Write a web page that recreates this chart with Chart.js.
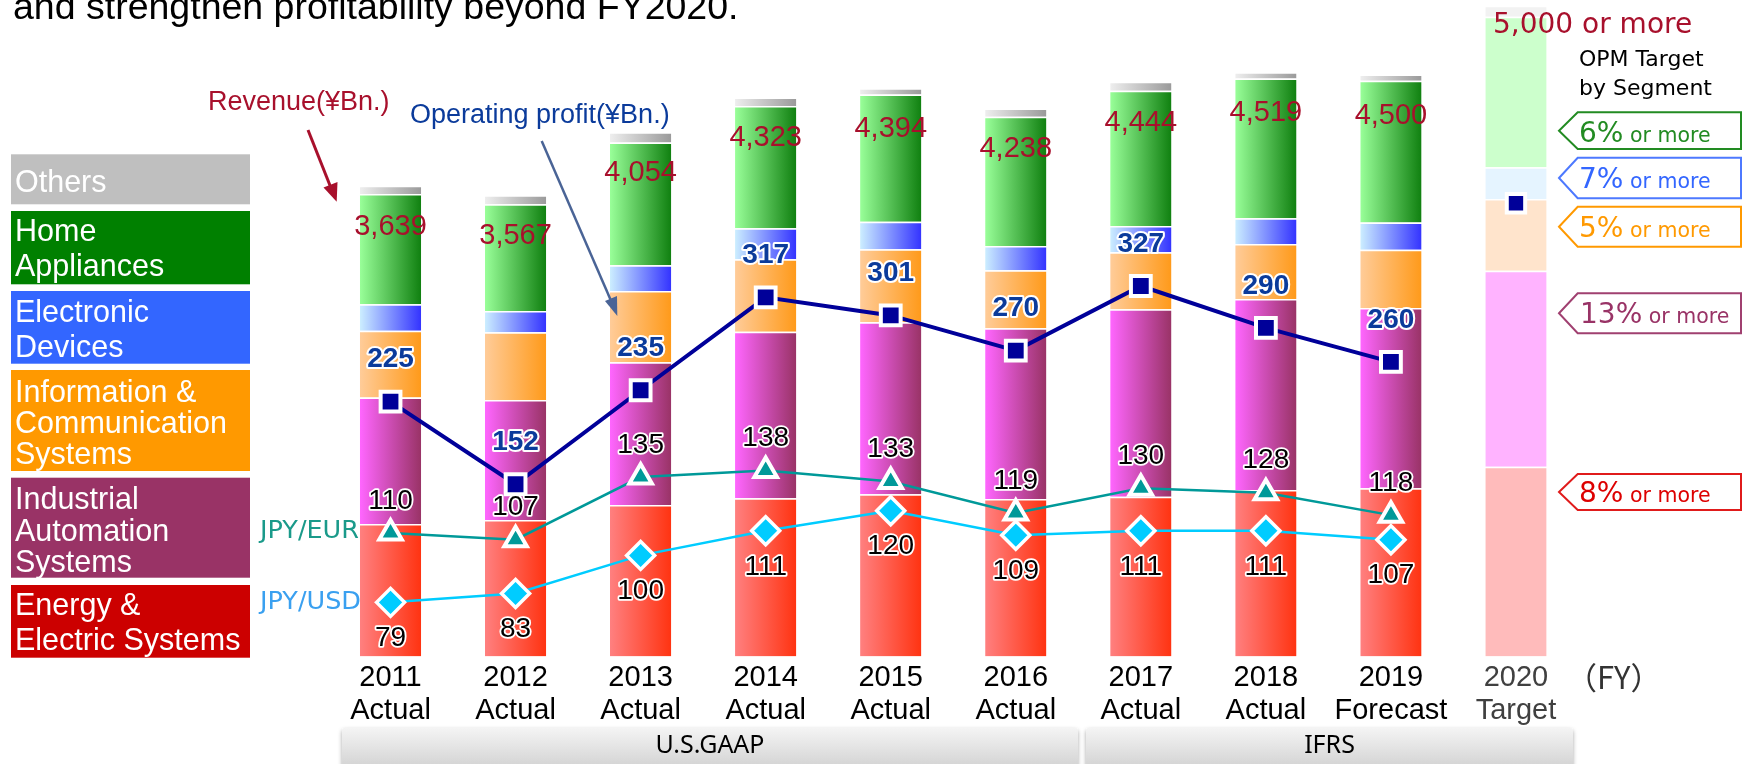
<!DOCTYPE html>
<html>
<head>
<meta charset="utf-8">
<script src="https://cdn.jsdelivr.net/npm/chart.js@4/dist/chart.umd.min.js"></script>
<style>
  html, body { margin: 0; padding: 0; background: #fff; overflow: hidden; }
  #wrap { position: relative; width: 1747px; height: 764px; }
  #chart { position: absolute; left: 0; top: 0; }
  #ov { position: absolute; left: 0; top: 0; pointer-events: none; }
  .arial { font-family: "Liberation Sans", Arial, sans-serif; }
  .dv { font-family: "DejaVu Sans", Verdana, sans-serif; }
</style>
</head>
<body>
<div id="wrap">
  <canvas id="chart" width="1747" height="764"></canvas>
  <svg id="ov" width="1747" height="764" xmlns="http://www.w3.org/2000/svg">
    <defs>
      <linearGradient id="gbar" x1="0" y1="0" x2="0" y2="1">
        <stop offset="0" stop-color="#f4f4f4"/>
        <stop offset="1" stop-color="#cfcfcf"/>
      </linearGradient>
      <filter id="sh" x="-5%" y="-20%" width="110%" height="160%">
        <feDropShadow dx="0" dy="2" stdDeviation="2" flood-color="#000" flood-opacity="0.35"/>
      </filter>
    </defs>
    <!-- header -->
    <text x="13" y="19" class="arial" font-size="37.5" fill="#000">and strengthen profitability beyond FY2020.</text>

    <!-- legend boxes -->
    <g class="arial" font-size="30.5" fill="#fff">
      <rect x="11" y="154.3" width="239" height="50" fill="#bfbfbf"/>
      <text x="15" y="191.7">Others</text>
      <rect x="11" y="211" width="239" height="73.3" fill="#008000"/>
      <text x="15" y="240.7">Home</text><text x="15" y="276">Appliances</text>
      <rect x="11" y="291" width="239" height="72.7" fill="#3366ff"/>
      <text x="15" y="321.7">Electronic</text><text x="15" y="356.7">Devices</text>
      <rect x="11" y="370" width="239" height="101" fill="#ff9900"/>
      <text x="15" y="401.7">Information &amp;</text><text x="15" y="433.3">Communication</text><text x="15" y="464">Systems</text>
      <rect x="11" y="477.7" width="239" height="100" fill="#993366"/>
      <text x="15" y="509.3">Industrial</text><text x="15" y="540.7">Automation</text><text x="15" y="571.7">Systems</text>
      <rect x="11" y="585" width="239" height="72.7" fill="#cc0000"/>
      <text x="15" y="615">Energy &amp;</text><text x="15" y="650">Electric Systems</text>
    </g>

    <!-- FX labels -->
    <text x="260" y="537.5" class="dv" font-size="25.5" fill="#1a9a8a">JPY/EUR</text>
    <text x="260" y="608.5" class="dv" font-size="25.5" fill="#3aa0f0">JPY/USD</text>

    <!-- series titles and arrows -->
    <text x="208" y="110" class="arial" font-size="27" fill="#a8102c">Revenue(¥Bn.)</text>
    <line x1="308" y1="130" x2="331" y2="188" stroke="#a8102c" stroke-width="3"/>
    <polygon points="336.7,201.7 323.5,187.5 337.5,182" fill="#a8102c"/>
    <text x="410" y="123" class="arial" font-size="27" fill="#0b3b9b">Operating profit(¥Bn.)</text>
    <line x1="541.7" y1="141" x2="612" y2="303" stroke="#4a6496" stroke-width="2.5"/>
    <polygon points="617.3,316 605,301 617,296" fill="#4a6496"/>

    <!-- 2020 target annotations -->
    <text x="1493" y="33.3" class="dv" font-size="28" fill="#a8102c">5,000 or more</text>
    <text x="1579" y="65.7" class="dv" font-size="22" fill="#000">OPM Target</text>
    <text x="1579" y="95" class="dv" font-size="22" fill="#000">by Segment</text>

    <g class="dv" stroke-width="2" fill="#fff">
      <polygon points="1559,130.7 1577.7,112.3 1741,112.3 1741,149 1577.7,149" stroke="#228b22"/>
      <polygon points="1559,178 1577.7,157.7 1741,157.7 1741,198.3 1577.7,198.3" stroke="#4d79ff"/>
      <polygon points="1559,226.7 1577.7,206.7 1741,206.7 1741,246.7 1577.7,246.7" stroke="#ff9900"/>
      <polygon points="1559,313.3 1577.7,293.3 1741,293.3 1741,333.3 1577.7,333.3" stroke="#a04070"/>
      <polygon points="1559,492 1577.7,474 1741,474 1741,510 1577.7,510" stroke="#e01b1b"/>
    </g>
    <g class="dv">
      <text x="1579" y="141.7" fill="#228b22"><tspan font-size="28">6%</tspan><tspan font-size="20.5"> or more</tspan></text>
      <text x="1579" y="188.3" fill="#3366ff"><tspan font-size="28">7%</tspan><tspan font-size="20.5"> or more</tspan></text>
      <text x="1579" y="236.7" fill="#ff9900"><tspan font-size="28">5%</tspan><tspan font-size="20.5"> or more</tspan></text>
      <text x="1580" y="323.3" fill="#993366"><tspan font-size="28">13%</tspan><tspan font-size="20.5"> or more</tspan></text>
      <text x="1579" y="502" fill="#dd0000"><tspan font-size="28">8%</tspan><tspan font-size="20.5"> or more</tspan></text>
    </g>

    <!-- FY marker -->
    <text x="1566" y="689" font-family="'Noto Sans CJK JP', sans-serif" font-size="31" fill="#333">（FY）</text>

    <!-- accounting standard bars -->
    <rect x="342" y="728" width="736" height="44" rx="3" fill="url(#gbar)" filter="url(#sh)"/>
    <text x="710" y="753" text-anchor="middle" font-family="'Noto Sans', sans-serif" font-size="25" fill="#000">U.S.GAAP</text>
    <rect x="1086" y="728" width="487" height="44" rx="3" fill="url(#gbar)" filter="url(#sh)"/>
    <text x="1329.5" y="753" text-anchor="middle" font-family="'Noto Sans', sans-serif" font-size="25" fill="#000">IFRS</text>
  </svg>
</div>
<script>
// ---------------- data ----------------
const years = ['2011','2012','2013','2014','2015','2016','2017','2018','2019','2020'];
const status = ['Actual','Actual','Actual','Actual','Actual','Actual','Actual','Actual','Forecast','Target'];

const energy     = [1024,1056,1172,1223,1254,1218,1236,1288,1301,1468];
const industrial = [ 979, 928,1104,1289,1330,1320,1449,1477,1395,1516];
const infoComm   = [ 516, 523, 551, 560, 565, 449, 441, 425, 449, 554];
const electronic = [ 206, 165, 199, 240, 213, 188, 204, 199, 212, 245];
const home       = [ 851, 825, 949, 946, 985,1000,1046,1080,1095,1165];
const others     = [  64,  70,  79,  65,  47,  63,  68,  50,  48,  85];

const revenue = [3639,3567,4054,4323,4394,4238,4444,4519,4500];
const revenueTargetLabel = '5,000 or more';

const opProfit = [225,152,235,317,301,270,327,290,260];
const opTarget = 400;

const jpyEur = [110,107,135,138,133,119,130,128,118];
const jpyUsd = [ 79, 83,100,111,120,109,111,111,107];

// ---------------- styling ----------------
const categories = years.map((y, i) => [y, status[i]]);
const BAR_PCT = 0.49;

function gradFill(c1, c2, pastel) {
  return (ctx) => {
    if (ctx.dataIndex === 9) return pastel;
    const chart = ctx.chart;
    if (!chart.chartArea || ctx.type !== 'data') return c2;
    const xs = chart.scales.x;
    const cx = xs.getPixelForValue(ctx.dataIndex);
    const half = (chart.chartArea.width / years.length) * BAR_PCT / 2;
    const g = chart.ctx.createLinearGradient(cx - half, 0, cx + half, 0);
    g.addColorStop(0, c1);
    g.addColorStop(1, c2);
    return g;
  };
}

function barSet(label, data, c1, c2, pastel) {
  return {
    type: 'bar', label, data, yAxisID: 'y', order: 10,
    backgroundColor: gradFill(c1, c2, pastel),
    borderColor: 'rgba(255,255,255,0.85)',
    borderWidth: { top: 1.5, bottom: 0, left: 0, right: 0 },
    borderSkipped: 'start',
    barPercentage: BAR_PCT, categoryPercentage: 1.0
  };
}

const datasets = [
  barSet('Energy & Electric Systems', energy, '#ff8080', '#ff3311', '#ffbbbb'),
  barSet('Industrial Automation Systems', industrial, '#ff66ff', '#993366', '#ffb3ff'),
  barSet('Information & Communication Systems', infoComm, '#ffcc99', '#ff9a1a', '#ffe4cc'),
  barSet('Electronic Devices', electronic, '#cceeff', '#3333ff', '#e5f4ff'),
  barSet('Home Appliances', home, '#99ff99', '#108010', '#ccffcc'),
  barSet('Others', others, '#eeeeee', '#9a9a9a', '#f2f2f2'),
  {
    type: 'line', label: 'JPY/USD', data: jpyUsd, yAxisID: 'yFX', order: 3,
    borderColor: '#00ccff', borderWidth: 2.5, tension: 0,
    pointStyle: 'rectRot', pointRadius: 14, pointBackgroundColor: '#00ccff',
    pointBorderColor: '#ffffff', pointBorderWidth: 3.5
  },
  {
    type: 'line', label: 'JPY/EUR', data: jpyEur, yAxisID: 'yFX', order: 2,
    borderColor: '#009999', borderWidth: 2.5, tension: 0,
    pointStyle: 'triangle', pointRadius: 13, pointBackgroundColor: '#009999',
    pointBorderColor: '#ffffff', pointBorderWidth: 4
  },
  {
    type: 'line', label: 'Operating profit', data: opProfit, yAxisID: 'yOP', order: 1,
    borderColor: '#000099', borderWidth: 4, tension: 0,
    pointStyle: 'rect', pointRadius: 14, pointBackgroundColor: '#000099',
    pointBorderColor: '#ffffff', pointBorderWidth: 4
  },
  {
    type: 'line', label: 'Operating profit target', data: Array(9).fill(null).concat([opTarget]),
    yAxisID: 'yOP', order: 1, showLine: false,
    pointStyle: 'rect', pointRadius: 13, pointBackgroundColor: '#000099',
    pointBorderColor: '#ffffff', pointBorderWidth: 4
  }
];

function drawLabel(ctx, text, x, y, font, fill, strokeW) {
  ctx.font = font;
  if (strokeW) {
    ctx.lineWidth = strokeW;
    ctx.strokeStyle = '#ffffff';
    ctx.strokeText(text, x, y);
  }
  ctx.fillStyle = fill;
  ctx.fillText(text, x, y);
}

const valueLabels = {
  id: 'valueLabels',
  afterDatasetsDraw(chart) {
    const ctx = chart.ctx;
    const xs = chart.scales.x, ys = chart.scales.y, yo = chart.scales.yOP, yf = chart.scales.yFX;
    ctx.save();
    ctx.textAlign = 'center';
    ctx.textBaseline = 'middle';
    ctx.lineJoin = 'round';
    const arial = '"Liberation Sans", Arial, sans-serif';
    revenue.forEach((v, i) => {
      drawLabel(ctx, v.toLocaleString('en-US'), xs.getPixelForValue(i), ys.getPixelForValue(v) + 41,
        '29px ' + arial, '#a8102c', 0);
    });
    jpyEur.forEach((v, i) => {
      drawLabel(ctx, String(v), xs.getPixelForValue(i), yf.getPixelForValue(v) - 32,
        '28px ' + arial, '#000000', 3.5);
    });
    jpyUsd.forEach((v, i) => {
      drawLabel(ctx, String(v), xs.getPixelForValue(i), yf.getPixelForValue(v) + 36,
        '28px ' + arial, '#000000', 3.5);
    });
    opProfit.forEach((v, i) => {
      drawLabel(ctx, String(v), xs.getPixelForValue(i), yo.getPixelForValue(v) - 42,
        'bold 28px ' + arial, '#0b3b9b', 4);
    });
    ctx.restore();
  }
};

new Chart(document.getElementById('chart'), {
  type: 'bar',
  data: { labels: categories, datasets },
  plugins: [valueLabels],
  options: {
    responsive: false,
    animation: false,
    devicePixelRatio: 1,
    layout: { autoPadding: false, padding: { left: 328, right: 168.5, top: 0, bottom: 0 } },
    plugins: { legend: { display: false }, tooltip: { enabled: false } },
    scales: {
      x: {
        stacked: true,
        grid: { display: false, drawTicks: false },
        border: { display: false },
        ticks: {
          autoSkip: false, maxRotation: 0, padding: 5,
          font: { family: '"Liberation Sans", Arial, sans-serif', size: 29, lineHeight: 1.14 },
          color: (c) => c.index === 9 ? '#404040' : '#000000'
        },
        afterFit: (scale) => { scale.height = 107.5; }
      },
      y: { stacked: true, display: false, min: 0, max: 5077 },
      yOP: { display: false, min: 0, max: 579.4 },
      yFX: { display: false, min: 54.8, max: 348.3 }
    }
  }
});
</script>
</body>
</html>
